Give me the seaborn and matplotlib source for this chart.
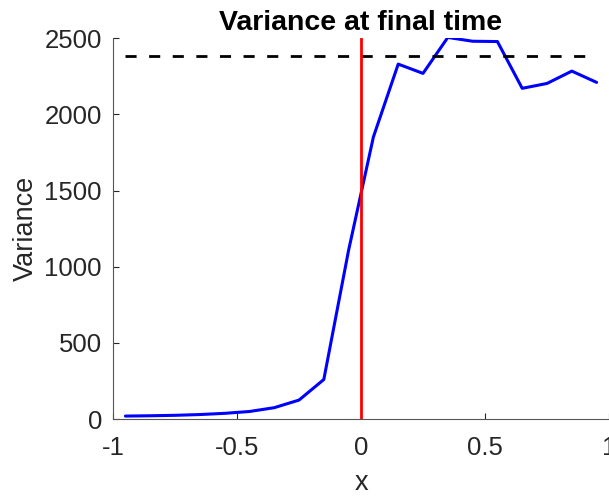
import numpy as np
import pandas as pd
import matplotlib
matplotlib.use('Agg')
import matplotlib.pyplot as plt
import seaborn as sns

# Data
x_vals = [-0.95, -0.85, -0.75, -0.65, -0.55, -0.45, -0.35, -0.25, -0.15, -0.05,
          0.05, 0.15, 0.25, 0.35, 0.45, 0.55, 0.65, 0.75, 0.85, 0.95]
variance = [20, 22, 25, 30, 38, 50, 75, 125, 260, 1109,
            1852, 2330, 2269, 2505, 2480, 2478, 2171, 2203, 2284, 2210]
ref_level = 2382
ref_x = [-0.95, 0.95]
split_x = 0.0
y_range = [0, 2500]

x_ticks = [-1, -0.5, 0, 0.5, 1]
x_ticklabels = ['-1', '-0.5', '0', '0.5', '1']
y_ticks = [0, 500, 1000, 1500, 2000, 2500]

df = pd.DataFrame({'x': x_vals, 'var': variance})

sns.set_style('ticks')
plt.rcParams['font.family'] = ['Liberation Sans', 'DejaVu Sans']
text_col = '#262626'

fig = plt.figure(figsize=(6.09, 4.96), dpi=100)
ax = fig.add_axes([0.1856, 0.155, 0.8144, 0.768])

sns.lineplot(data=df, x='x', y='var', ax=ax, color='#0000ff', linewidth=2.2)
ax.plot(ref_x, [ref_level, ref_level], color='black', linestyle=(0, (4, 4.5)), linewidth=2.0)
ax.plot([split_x, split_x], y_range, color='#ff0000', linewidth=2.0)

ax.set_xlim(-1, 1)
ax.set_ylim(0, 2500)
ax.set_xticks(x_ticks)
ax.set_xticklabels(x_ticklabels)
ax.set_yticks(y_ticks)
ax.tick_params(direction='in', length=4, width=0.8, colors=text_col, labelsize=18.5)
ax.tick_params(axis='x', pad=12)
ax.tick_params(axis='y', pad=8)
for s in ['top', 'right']:
    ax.spines[s].set_visible(False)
for s in ['left', 'bottom']:
    ax.spines[s].set_color('#555555')
    ax.spines[s].set_linewidth(0.8)

ax.set_xlabel('x', fontsize=19.5, color=text_col, labelpad=7)
ax.set_ylabel('Variance', fontsize=19.5, color=text_col, labelpad=4)
ax.set_title('Variance at final time', fontsize=20.5, fontweight='bold', color='black', pad=6)

fig.savefig('out.png', dpi=100)
